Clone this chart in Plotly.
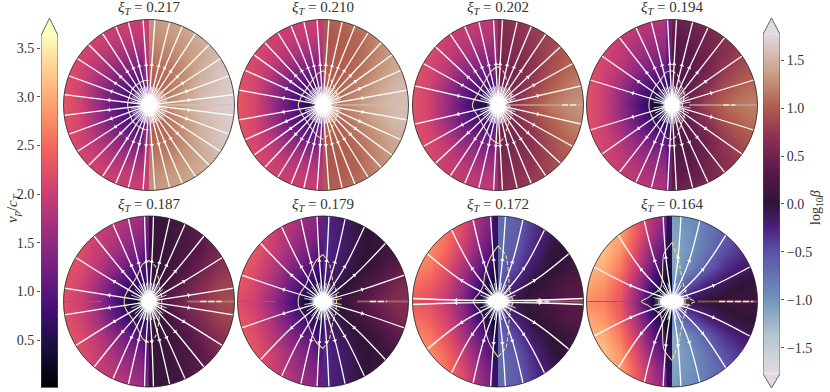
"""
plot.py

Eight disk panels of v_p/c_T (left half) and log10 beta (right half)
with field lines, the sonic contour and two shared colour bars.
Values read off the reference picture.
"""

import math

import numpy as np
import plotly.graph_objects as go

W, H = 830, 392
FONT = "Liberation Serif"
INK = "#333333"

xi_t = ["0.217", "0.210", "0.202", "0.194", "0.187", "0.179", "0.172", "0.164"]

# Each table: rows y = 1.0 .. 0.0 (mirrored below the equator),
# columns |x| = 0.05, 0.2, 0.4, 0.6, 0.8, 1.0
vp_217 = [[2.00, 2.00, 2.05, 2.10, 2.15, 2.20], [1.85, 1.90, 1.95, 2.05, 2.10, 2.20],
          [1.55, 1.60, 1.75, 1.95, 2.10, 2.20], [1.10, 1.25, 1.50, 1.80, 2.05, 2.25],
          [0.80, 0.90, 1.20, 1.60, 2.05, 2.25], [0.60, 0.70, 1.05, 1.55, 2.05, 2.30]]
vp_210 = [[2.00, 2.00, 2.05, 2.10, 2.20, 2.25], [1.85, 1.90, 1.95, 2.05, 2.15, 2.25],
          [1.55, 1.65, 1.80, 2.00, 2.15, 2.25], [1.10, 1.25, 1.50, 1.85, 2.10, 2.25],
          [0.75, 0.85, 1.15, 1.65, 2.10, 2.30], [0.50, 0.60, 1.05, 1.60, 2.10, 2.30]]
vp_202 = [[1.90, 1.90, 1.95, 2.05, 2.15, 2.25], [1.75, 1.80, 1.90, 2.00, 2.15, 2.25],
          [1.45, 1.55, 1.75, 1.95, 2.15, 2.25], [1.05, 1.25, 1.50, 1.85, 2.10, 2.25],
          [0.70, 0.85, 1.15, 1.60, 2.05, 2.25], [0.35, 0.50, 1.00, 1.55, 2.05, 2.25]]
vp_194 = [[1.75, 1.80, 1.90, 2.00, 2.15, 2.25], [1.60, 1.65, 1.80, 1.95, 2.10, 2.25],
          [1.35, 1.45, 1.65, 1.90, 2.10, 2.25], [1.00, 1.15, 1.45, 1.80, 2.05, 2.25],
          [0.60, 0.75, 1.10, 1.60, 2.00, 2.25], [0.20, 0.35, 0.95, 1.50, 2.00, 2.25]]
vp_187 = [[1.55, 1.70, 1.90, 2.05, 2.20, 2.30], [1.40, 1.55, 1.80, 2.00, 2.20, 2.30],
          [1.15, 1.35, 1.65, 1.95, 2.20, 2.30], [0.85, 1.05, 1.45, 1.85, 2.15, 2.30],
          [0.50, 0.70, 1.10, 1.65, 2.05, 2.25], [0.20, 0.35, 0.95, 1.55, 2.00, 2.20]]
vp_179 = [[1.40, 1.55, 1.85, 2.10, 2.35, 2.45], [1.25, 1.45, 1.75, 2.05, 2.30, 2.45],
          [1.00, 1.30, 1.65, 2.00, 2.30, 2.45], [0.75, 1.05, 1.45, 1.85, 2.20, 2.40],
          [0.45, 0.75, 1.20, 1.70, 2.10, 2.30], [0.15, 0.35, 1.00, 1.55, 2.00, 2.20]]
vp_172 = [[1.10, 1.60, 2.20, 2.60, 2.80, 2.85], [0.95, 1.50, 2.10, 2.55, 2.80, 2.85],
          [0.75, 1.30, 1.95, 2.45, 2.75, 2.85], [0.50, 1.05, 1.70, 2.25, 2.60, 2.75],
          [0.25, 0.75, 1.50, 2.05, 2.40, 2.55], [0.10, 0.40, 1.35, 1.90, 2.20, 2.35]]
vp_164 = [[1.30, 1.70, 2.30, 2.90, 3.10, 3.10], [1.00, 1.60, 2.30, 2.90, 3.15, 3.15],
          [0.70, 1.30, 2.10, 2.80, 3.15, 3.15], [0.45, 1.00, 1.90, 2.60, 3.00, 3.10],
          [0.20, 0.70, 1.60, 2.40, 2.80, 2.95], [0.10, 0.30, 1.40, 2.30, 2.65, 2.75]]

beta_217 = [[1.30, 1.35, 1.40, 1.50, 1.55, 1.60], [1.25, 1.30, 1.35, 1.45, 1.55, 1.60],
            [1.15, 1.20, 1.30, 1.40, 1.55, 1.65], [1.05, 1.10, 1.25, 1.45, 1.60, 1.65],
            [1.00, 1.10, 1.30, 1.50, 1.60, 1.70], [1.00, 1.20, 1.40, 1.55, 1.65, 1.70]]
beta_210 = [[1.00, 1.05, 1.15, 1.25, 1.40, 1.50], [0.95, 1.00, 1.05, 1.20, 1.35, 1.50],
            [0.95, 1.00, 1.05, 1.20, 1.35, 1.50], [1.00, 1.00, 1.10, 1.25, 1.40, 1.50],
            [1.00, 1.05, 1.20, 1.35, 1.50, 1.55], [1.00, 1.15, 1.30, 1.45, 1.55, 1.60]]
beta_202 = [[0.65, 0.70, 0.80, 0.90, 1.00, 1.10], [0.60, 0.65, 0.75, 0.85, 0.95, 1.10],
            [0.55, 0.60, 0.70, 0.85, 1.00, 1.10], [0.50, 0.55, 0.70, 0.90, 1.05, 1.15],
            [0.50, 0.60, 0.80, 1.00, 1.15, 1.25], [0.50, 0.70, 0.95, 1.15, 1.25, 1.30]]
beta_194 = [[0.45, 0.50, 0.60, 0.70, 0.80, 0.90], [0.35, 0.40, 0.50, 0.65, 0.75, 0.90],
            [0.30, 0.35, 0.50, 0.65, 0.80, 0.95], [0.25, 0.35, 0.50, 0.75, 0.90, 1.00],
            [0.25, 0.40, 0.65, 0.90, 1.05, 1.10], [0.25, 0.50, 0.85, 1.05, 1.15, 1.20]]
beta_187 = [[0.05, 0.10, 0.20, 0.35, 0.45, 0.55], [0.05, 0.10, 0.20, 0.35, 0.50, 0.60],
            [0.05, 0.10, 0.20, 0.35, 0.55, 0.65], [0.05, 0.10, 0.25, 0.45, 0.65, 0.75],
            [0.05, 0.15, 0.40, 0.60, 0.80, 0.85], [0.10, 0.30, 0.55, 0.70, 0.85, 0.90]]
beta_179 = [[-0.30, -0.20, -0.05, 0.10, 0.20, 0.30], [-0.30, -0.20, -0.05, 0.05, 0.15, 0.25],
            [-0.30, -0.20, -0.05, 0.05, 0.15, 0.30], [-0.25, -0.15, 0.00, 0.10, 0.30, 0.45],
            [-0.15, -0.05, 0.10, 0.30, 0.50, 0.60], [-0.05, 0.05, 0.25, 0.45, 0.60, 0.65]]
beta_172 = [[-0.70, -0.60, -0.40, -0.20, -0.05, 0.05], [-0.70, -0.60, -0.35, -0.15, 0.00, 0.05],
            [-0.70, -0.55, -0.30, -0.05, 0.05, 0.10], [-0.65, -0.45, -0.15, 0.00, 0.10, 0.20],
            [-0.50, -0.25, 0.00, 0.10, 0.25, 0.30], [-0.20, -0.05, 0.10, 0.20, 0.30, 0.35]]
beta_164 = [[-1.05, -0.95, -0.80, -0.60, -0.45, -0.35], [-1.10, -1.00, -0.80, -0.60, -0.45, -0.35],
            [-1.15, -1.00, -0.75, -0.50, -0.35, -0.25], [-1.15, -0.90, -0.60, -0.35, -0.20, -0.10],
            [-0.90, -0.50, -0.25, -0.10, 0.00, 0.05], [-0.30, -0.10, 0.00, 0.05, 0.10, 0.10]]

vp_tables = [vp_217, vp_210, vp_202, vp_194, vp_187, vp_179, vp_172, vp_164]
beta_tables = [beta_217, beta_210, beta_202, beta_194, beta_187, beta_179, beta_172, beta_164]

# thin strip left of the axis, y = 1.0 .. 0.0
axis_strips = [[2.00, 1.95, 1.85, 1.60, 1.20, 0.80], [1.90, 1.85, 1.70, 1.45, 1.10, 0.70],
               [1.70, 1.65, 1.50, 1.30, 1.00, 0.70], [1.25, 1.20, 1.10, 0.95, 0.70, 0.40],
               [1.30, 1.20, 1.05, 0.85, 0.60, 0.30], [1.20, 1.10, 0.95, 0.75, 0.50, 0.20],
               [0.75, 0.70, 0.60, 0.50, 0.30, 0.10], [0.65, 0.60, 0.50, 0.40, 0.20, 0.10]]

# field lines: angle from the equator (deg) at r = 1.0, 0.5, 0.07, one quadrant
stream_radii = [1.0, 0.5, 0.07]
rim_angles = [[7, 20, 33, 45, 57, 67, 76, 86], [10, 24, 36, 47, 58, 68, 77, 86],
              [13, 29, 43, 56, 67, 77, 87], [17, 35, 52, 65, 76, 87],
              [9, 31, 50, 65, 76, 87], [18, 43, 61, 75, 86],
              [2, 34, 57, 73, 85], [24, 51, 71, 84]]
mid_angles = [[7, 20, 33, 45, 57, 67, 76, 86], [10, 24, 36, 47, 58, 68, 77, 86],
              [13, 29, 43, 56, 67, 77, 87], [17, 35, 52, 65, 76, 87],
              [9, 30, 49, 64, 75, 86], [17, 40, 58, 73, 85],
              [2, 30, 52, 70, 84], [21, 46, 67, 82]]
inner_angles = [[7, 20, 33, 45, 57, 67, 76, 86], [10, 24, 36, 47, 58, 68, 77, 86],
                [13, 29, 43, 56, 67, 77, 87], [18, 36, 52, 65, 76, 87],
                [11, 31, 50, 65, 75, 86], [20, 42, 60, 74, 85],
                [8, 38, 55, 72, 85], [32, 50, 70, 83]]
arrow_radius = [0.47, 0.47, 0.48, 0.48, 0.47, 0.48, 0.49, 0.52]

# short extra spokes close to the centre, r = 0.07 .. 0.22
extra_spokes = [[13, 27, 39, 51, 62, 72, 81], [17, 30, 42, 53, 63, 72, 82],
                [21, 36, 50, 62, 72, 82], [9, 26, 44, 59, 71, 82],
                [20, 41, 58, 71, 82], [9, 30, 52, 68, 80],
                [20, 46, 64, 79], [12, 38, 60, 77]]

# sonic contour, radius at 90, 80, 65, 45, 25, 10, 0 deg from the equator
contour_angles = [90, 80, 65, 45, 25, 10, 0]
contour_left = [[0.29, 0.29, 0.28, 0.27, 0.25, 0.25, 0.25], [0.40, 0.37, 0.31, 0.27, 0.27, 0.28, 0.29],
                [0.45, 0.41, 0.33, 0.28, 0.27, 0.29, 0.30], [0.40, 0.39, 0.32, 0.29, 0.27, 0.27, 0.27],
                [0.48, 0.44, 0.33, 0.28, 0.28, 0.29, 0.29], [0.55, 0.48, 0.36, 0.28, 0.28, 0.29, 0.29],
                [0.65, 0.52, 0.36, 0.25, 0.24, 0.27, 0.29], [0.69, 0.56, 0.27, 0.20, 0.23, 0.28, 0.36]]
contour_right = [[0.29, 0.27, 0.22, 0.18, 0.15, 0.14, 0.14], [0.40, 0.36, 0.27, 0.22, 0.19, 0.16, 0.15],
                 [0.45, 0.39, 0.27, 0.21, 0.17, 0.14, 0.13], [0.40, 0.36, 0.25, 0.20, 0.15, 0.13, 0.12],
                 [0.48, 0.42, 0.27, 0.18, 0.16, 0.15, 0.15], [0.55, 0.44, 0.27, 0.21, 0.17, 0.16, 0.16],
                 [0.65, 0.54, 0.30, 0.19, 0.17, 0.17, 0.18], [0.69, 0.47, 0.28, 0.21, 0.19, 0.20, 0.27]]

# central blob half-widths and dark lens beside it
blob_rx = [0.09, 0.09, 0.09, 0.09, 0.09, 0.11, 0.13, 0.14]
blob_ry = [0.09, 0.09, 0.09, 0.09, 0.09, 0.08, 0.08, 0.08]
lens_end = [0, 0, 0, 0, 0, 0, 0.2, 0.2]

# equatorial artefacts
strip_start = [0.0, 0.0, 0.1, 0.2, 0.45, 0.4, 0.3, 0.3]
strip_color = ["#d8c3b4", "#d9b8a0", "#c9a48f", "#b9a59c", "#b08f88", "#a88078", "#b07a70", "#a86a60"]
dash_start = [0, 0, 0.75, 0.60, 0.60, 0.55, 0.45, 0.55]
dash_end = [0, 0, 0.92, 0.74, 0.85, 0.75, 0.60, 0.95]
left_strip_end = [0, 0, 0, 0, 0.55, 0.55, 0.5, 0.5]

# layout read in pixels
panel_cx = [149, 323, 498, 672, 149, 323, 498, 672]
panel_cy = [105, 105, 105, 105, 301.5, 301.5, 301.5, 301.5]
PANEL_R = 85.5

vp_ticks = [0.5, 1.0, 1.5, 2.0, 2.5, 3.0, 3.5]
beta_ticks = [-1.5, -1.0, -0.5, 0.0, 0.5, 1.0, 1.5]
vp_min, vp_max = 0.007, 3.63
beta_min, beta_max = -1.77, 1.77

magma = ["#000004", "#180f3d", "#440f76", "#721f81", "#9e2f7f",
         "#cd4071", "#f1605d", "#fd9668", "#feca8d", "#fcfdbf"]
twilight = [[0.0, "#e2d9e2"], [0.11, "#b3c6cf"], [0.22, "#6f92bd"], [0.36, "#5b4fa6"],
            [0.43, "#4a1f7a"], [0.5, "#2f1436"], [0.6, "#5c1a4a"], [0.7, "#8f3352"],
            [0.79, "#b2604f"], [0.88, "#c89f84"], [1.0, "#e2d9e2"]]

X_RIGHT = [0, 0.1, 0.3, 0.5, 0.7, 0.9, 1.1]
X_LEFT = [-1.1, -0.9, -0.7, -0.5, -0.3, -0.1, 0]
Y_EDGES = [-1.1, -0.9, -0.7, -0.5, -0.3, -0.1, 0.1, 0.3, 0.5, 0.7, 0.9, 1.1]


def mirror_rows(rows):
    return rows + rows[-2::-1]


def polar(radii, angles):
    a = np.radians(angles)
    return np.array(radii) * np.cos(a), np.array(radii) * np.sin(a)


fig = go.Figure()
shapes = []
annotations = []
layout_axes = {}

theta = np.radians(np.linspace(0, 360, 241))
circle = " ".join(f"{'M' if i == 0 else 'L'} {c:.4f} {s:.4f}"
                  for i, (c, s) in enumerate(zip(np.cos(theta), np.sin(theta))))

for i in range(8):
    n = i + 1
    xa, ya = f"x{n}", f"y{n}"
    cx, cy = panel_cx[i], panel_cy[i]
    # subplot box on whole pixels, a little wider than the disk
    left_px, right_px = math.floor(cx - PANEL_R - 1), math.ceil(cx + PANEL_R + 1)
    top_px, bottom_px = math.floor(cy - PANEL_R - 1), math.ceil(cy + PANEL_R + 1)
    x_lo, x_hi = (left_px - cx) / PANEL_R, (right_px - cx) / PANEL_R
    y_lo, y_hi = (cy - bottom_px) / PANEL_R, (cy - top_px) / PANEL_R
    layout_axes[f"xaxis{n}"] = dict(domain=[left_px / W, right_px / W],
                                    range=[x_lo, x_hi], visible=False, anchor=ya)
    layout_axes[f"yaxis{n}"] = dict(domain=[1 - bottom_px / H, 1 - top_px / H],
                                    range=[y_lo, y_hi], visible=False, anchor=xa)

    # left half, v_p
    fig.add_trace(go.Heatmap(z=[row[::-1] for row in mirror_rows(vp_tables[i])],
                             x=X_LEFT, y=Y_EDGES, coloraxis="coloraxis", zsmooth="best",
                             hoverinfo="skip", xaxis=xa, yaxis=ya))
    strip = axis_strips[i]
    fig.add_trace(go.Heatmap(z=[[v, v] for v in mirror_rows(strip)],
                             x=[-0.065, -0.03, 0], y=Y_EDGES, coloraxis="coloraxis", zsmooth="best",
                             hoverinfo="skip", xaxis=xa, yaxis=ya))
    # right half, log10 beta
    fig.add_trace(go.Heatmap(z=mirror_rows(beta_tables[i]),
                             x=X_RIGHT, y=Y_EDGES, coloraxis="coloraxis2", zsmooth="best",
                             hoverinfo="skip", xaxis=xa, yaxis=ya))

    # equator artefacts
    fig.add_trace(go.Scatter(x=[strip_start[i], 1], y=[0, 0], mode="lines",
                             line=dict(color=strip_color[i], width=2), opacity=0.7,
                             hoverinfo="skip", xaxis=xa, yaxis=ya))
    if dash_end[i]:
        fig.add_trace(go.Scatter(x=[dash_start[i], dash_end[i]], y=[0, 0], mode="lines",
                                 line=dict(color="#f2e9e6", width=1.6, dash="6px,2px"),
                                 hoverinfo="skip", xaxis=xa, yaxis=ya))
    if left_strip_end[i]:
        fig.add_trace(go.Scatter(x=[-1, -left_strip_end[i]], y=[0, 0], mode="lines",
                                 line=dict(color="#b04a80", width=1),
                                 hoverinfo="skip", xaxis=xa, yaxis=ya))
    if lens_end[i]:
        for sign in (-1, 1):
            fig.add_trace(go.Scatter(x=[sign * 0.1, sign * lens_end[i]], y=[0, 0], mode="lines",
                                     line=dict(color="#000004", width=3),
                                     hoverinfo="skip", xaxis=xa, yaxis=ya))

    # sonic contour, under the field lines
    ang = contour_angles + [-a for a in contour_angles[-2::-1]]
    lx, ly = polar(contour_left[i] + contour_left[i][-2::-1], ang)
    fig.add_trace(go.Scatter(x=-lx, y=ly, mode="lines",
                             line=dict(color="#e6da90", width=1.1, shape="spline", smoothing=0.7),
                             hoverinfo="skip", xaxis=xa, yaxis=ya))
    if i > 0:
        rx, ry = polar(contour_right[i] + contour_right[i][-2::-1], ang)
        fig.add_trace(go.Scatter(x=rx, y=ry, mode="lines",
                                 line=dict(color="#e6da90", width=1.1, dash="4px,2px", shape="spline", smoothing=0.7),
                                 hoverinfo="skip", xaxis=xa, yaxis=ya))

    # field lines and arrows, all four quadrants
    arrow_x, arrow_y, arrow_a = [], [], []
    for rim, mid, inner in zip(rim_angles[i], mid_angles[i], inner_angles[i]):
        for flip_x, flip_y in ((1, 1), (-1, 1), (1, -1), (-1, -1)):
            lx, ly = polar(stream_radii, [rim, mid, inner])
            fig.add_trace(go.Scatter(x=flip_x * lx, y=flip_y * ly, mode="lines",
                                     line=dict(color="white", width=1.3, shape="spline"),
                                     hoverinfo="skip", xaxis=xa, yaxis=ya))
            ax, ay = polar([arrow_radius[i]], [mid])
            arrow_x.append(flip_x * ax[0])
            arrow_y.append(flip_y * ay[0])
            arrow_a.append(float(90 - np.degrees(np.arctan2(flip_y * ay[0], flip_x * ax[0]))))
    fig.add_trace(go.Scatter(x=arrow_x, y=arrow_y, mode="markers",
                             marker=dict(symbol="triangle-up", size=4, color="white", angle=arrow_a),
                             hoverinfo="skip", xaxis=xa, yaxis=ya))
    for spoke in extra_spokes[i]:
        for flip_x, flip_y in ((1, 1), (-1, 1), (1, -1), (-1, -1)):
            lx, ly = polar([0.07, 0.22], [spoke, spoke])
            fig.add_trace(go.Scatter(x=flip_x * lx, y=flip_y * ly, mode="lines",
                                     line=dict(color="white", width=0.8),
                                     hoverinfo="skip", xaxis=xa, yaxis=ya))

    # white outside the disk, soft blob in the middle, rim on top
    mask_path = (f"M {x_lo} {y_lo} L {x_hi} {y_lo} L {x_hi} {y_hi} L {x_lo} {y_hi} Z {circle} Z")
    shapes.append(dict(type="path", path=mask_path, xref=xa, yref=ya, fillcolor="white",
                       line_width=0, layer="above"))
    for grow, alpha in ((1.45, 0.2), (1.2, 0.45), (1.0, 1.0)):
        shapes.append(dict(type="circle", x0=-blob_rx[i] * grow, x1=blob_rx[i] * grow,
                           y0=-blob_ry[i] * grow, y1=blob_ry[i] * grow, opacity=alpha,
                           xref=xa, yref=ya, fillcolor="white", line_width=0, layer="above"))
    shapes.append(dict(type="circle", x0=-1, x1=1, y0=-1, y1=1, xref=xa, yref=ya,
                       line=dict(color="#222222", width=0.8), layer="above"))

    annotations.append(dict(text=f"<i>ξ<sub>T</sub></i> = {xi_t[i]}", x=cx / W,
                            y=1 - (cy - PANEL_R - 11) / H, xref="paper", yref="paper",
                            showarrow=False, yanchor="middle", xanchor="center",
                            font=dict(family=FONT, size=15, color=INK)))


def add_bar(n, x0_px, x1_px, y0_range, y1_range, low, high, ticks, side, cap_low, coloraxis, cap_color, low_color):
    xa, ya = f"x{n}", f"y{n}"
    layout_axes[f"xaxis{n}"] = dict(domain=[x0_px / W, x1_px / W], range=[0, 1], visible=False, anchor=ya)
    layout_axes[f"yaxis{n}"] = dict(domain=[1 - 388 / H, 1 - 18 / H], range=[y0_range, y1_range], anchor=xa,
                                    side=side, tickmode="array", tickvals=ticks,
                                    ticktext=[f"{t:.1f}".replace("-", "−") for t in ticks],
                                    ticks="outside", ticklen=3, tickwidth=0.8, tickcolor="#555555",
                                    showgrid=False, zeroline=False, showline=False,
                                    tickfont=dict(family=FONT, size=14, color=INK))
    levels = np.linspace(low, high, 201)
    fig.add_trace(go.Heatmap(z=[[v, v] for v in levels[:-1]], x=[0, 0.5, 1], y=levels,
                             coloraxis=coloraxis, hoverinfo="skip", xaxis=xa, yaxis=ya))
    tip_high = y1_range
    fig.add_trace(go.Scatter(x=[0, 0.5, 1, 0], y=[high, tip_high, high, high], mode="lines", fill="toself",
                             fillcolor=cap_color, line=dict(width=0), hoverinfo="skip", xaxis=xa, yaxis=ya))
    if cap_low:
        fig.add_trace(go.Scatter(x=[0, 0.5, 1, 0], y=[low, y0_range, low, low], mode="lines", fill="toself",
                                 fillcolor=low_color, line=dict(width=0), hoverinfo="skip", xaxis=xa, yaxis=ya))
        ox = [0, 0, 0.5, 1, 1, 0.5, 0]
        oy = [low, high, tip_high, high, low, y0_range, low]
    else:
        ox = [0, 0, 0.5, 1, 1, 0]
        oy = [low, high, tip_high, high, low, low]
    fig.add_trace(go.Scatter(x=ox, y=oy, mode="lines", line=dict(color="#555555", width=0.9),
                             cliponaxis=False, hoverinfo="skip", xaxis=xa, yaxis=ya))


add_bar(9, 41, 58, 0.007, 3.81, vp_min, vp_max, vp_ticks, "left", False, "coloraxis", "#fcfdbf", None)
add_bar(10, 763, 780, -1.92, 1.94, beta_min, beta_max, beta_ticks, "right", True, "coloraxis2", "#e2d9e2", "#e2d9e2")

annotations.append(dict(text="<i>v<sub>p</sub></i>/<i>c<sub>T</sub></i>", x=13 / W, y=1 - 208 / H,
                        xref="paper", yref="paper", showarrow=False, textangle=-90, xanchor="center",
                        yanchor="middle", font=dict(family=FONT, size=15, color=INK)))
annotations.append(dict(text="log<sub>10</sub><i>β</i>", x=816 / W, y=1 - 208 / H,
                        xref="paper", yref="paper", showarrow=False, textangle=-90, xanchor="center",
                        yanchor="middle", font=dict(family=FONT, size=14, color=INK)))

fig.update_layout(
    width=W, height=H,
    margin=dict(l=0, r=0, t=0, b=0),
    paper_bgcolor="white", plot_bgcolor="white",
    showlegend=False,
    coloraxis=dict(colorscale=magma, cmin=vp_min, cmax=vp_max, showscale=False),
    coloraxis2=dict(colorscale=twilight, cmin=beta_min, cmax=beta_max, showscale=False),
    shapes=shapes,
    annotations=annotations,
    **layout_axes,
)

fig.write_html("out.html", config={"displayModeBar": False}, post_script="document.body.style.margin='0';")
